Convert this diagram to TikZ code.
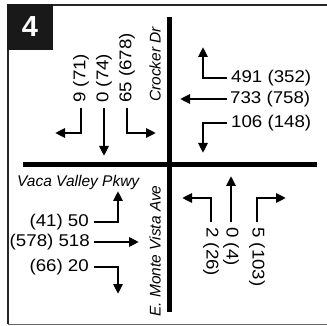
\documentclass[tikz,border=0pt]{standalone}
\usepackage{fontspec}
\setmainfont{Liberation Sans}
\newfontfamily\numfont[FakeStretch=1.1]{Liberation Sans}
\usetikzlibrary{arrows.meta}
\tikzset{
  road/.style={line width=5pt},
  arr/.style={line width=2.6pt, -{Triangle[length=10pt,width=9pt]}},
  num/.style={inner sep=0pt, font=\numfont\fontsize{17}{19}\selectfont},
  lbl/.style={inner sep=0pt, font=\itshape\fontsize{15.5}{17}\selectfont},
  frameline/.style={line width=2.5pt, draw=black!85}
}
\begin{document}
\begin{tikzpicture}[x=1pt,y=-1pt]
\useasboundingbox (0,0) rectangle (327,326);
% frame
\draw[frameline] (327,5) -- (8,5) -- (8,324);
\draw[line width=1.5pt, draw=black!60] (8,324.5) -- (327,324.5);
\node[fill=black!90, minimum width=46pt, minimum height=46pt, inner sep=0pt, text=white, font=\bfseries\fontsize{29}{31}\selectfont] (box) at (30,27) {4};
% roads
\coordinate (vt) at (169.5,17);
\coordinate (vb) at (169.5,312);
\coordinate (hl) at (23,164.5);
\coordinate (hr) at (317,164.5);
\draw[road] (vt) -- (vb);
\draw[road] (hl) -- (hr);
% street labels
\node[lbl, rotate=90, anchor=west] (crocker) at (155,102) {Crocker Dr};
\node[lbl, rotate=90, anchor=west] (monte) at (155,317) {E. Monte Vista Ave};
\node[lbl, anchor=west] (vaca) at (17,182) {Vaca Valley Pkwy};
% upper left (southbound)
\node[num, rotate=90, anchor=west] (sl) at (81,103) {9 (71)};
\node[num, rotate=90, anchor=west] (st) at (104,103) {0 (74)};
\node[num, rotate=90, anchor=west] (sr) at (127,103) {65 (678)};
\draw[arr] (sl.west) ++(0,5) -- (81,133) -- (55,133);
\draw[arr] (st.west) ++(0,5) -- (104,156);
\draw[arr] (sr.west) ++(0,5) -- (127,133) -- (156,133);
% upper right (westbound)
\node[num, anchor=west] (wr) at (231,78) {491 (352)};
\node[num, anchor=west] (wt) at (230,99) {733 (758)};
\node[num, anchor=west] (wl) at (231,123) {106 (148)};
\draw[arr] (wr.west) ++(-4,0) -- (203,78) -- (203,47);
\draw[arr] (wt.west) ++(-3,0) -- (180,99);
\draw[arr] (wl.west) ++(-4,0) -- (203,123) -- (203,153);
% lower left (eastbound)
\node[num, anchor=east] (el) at (89,222) {(41) 50};
\node[num, anchor=east] (et) at (90,242) {(578) 518};
\node[num, anchor=east] (er) at (89,267) {(66) 20};
\draw[arr] (el.east) ++(5,0) -- (118,222) -- (118,191);
\draw[arr] (et.east) ++(4,0) -- (139,242);
\draw[arr] (er.east) ++(5,0) -- (118,267) -- (118,294);
% lower right (northbound)
\node[num, rotate=-90, anchor=west] (nl) at (211,227) {2 (26)};
\node[num, rotate=-90, anchor=west] (nt) at (231,227) {0 (4)};
\node[num, rotate=-90, anchor=west] (nr) at (257,227) {5 (103)};
\draw[arr] (nl.west) ++(0,-5) -- (211,198) -- (182,198);
\draw[arr] (nt.west) ++(0,-5) -- (231,176);
\draw[arr] (nr.west) ++(0,-5) -- (257,198) -- (286,198);
\end{tikzpicture}
\end{document}
